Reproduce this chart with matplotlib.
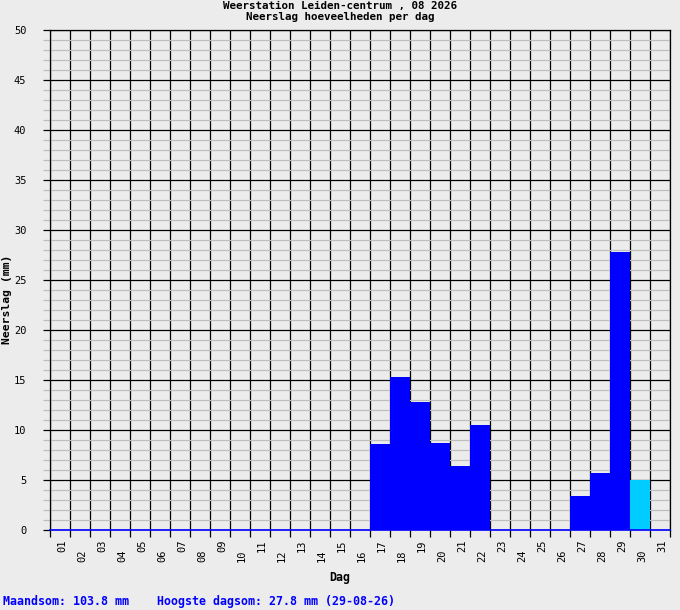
import matplotlib
matplotlib.use('Agg')
import matplotlib.pyplot as plt
import numpy as np

days = list(range(1, 32))
rain = [0, 0, 0, 0, 0, 0, 0, 0, 0, 0, 0, 0, 0, 0, 0, 0,
        8.6, 15.3, 12.8, 8.7, 6.4, 10.5, 0, 0, 0, 0, 3.4, 5.7, 27.8, 5.0, 0]
colors = ['#0000ff'] * 29 + ['#00ccff', '#0000ff']
day_labels = ['%02d' % d for d in days]

title_1 = 'Weerstation Leiden-centrum , 08 2026'
title_2 = 'Neerslag hoeveelheden per dag'
footer = 'Maandsom: 103.8 mm    Hoogste dagsom: 27.8 mm (29-08-26)'

bg = '#ececec'
mono = 'DejaVu Sans Mono'

fig = plt.figure(figsize=(6.8, 6.1), dpi=100, facecolor=bg)
ax = fig.add_axes([50 / 680, 80 / 610, 620 / 680, 500 / 610], facecolor=bg)

ax.bar(days, rain, width=1.0, color=colors, zorder=3, linewidth=0)

ax.set_xlim(0.5, 31.5)
ax.set_ylim(0, 50)

# grid
ax.set_xticks(np.arange(0.5, 32, 1))
ax.set_xticklabels([])
ax.set_yticks(np.arange(0, 51, 5))
ax.set_yticks(np.arange(0, 51, 1), minor=True)
ax.xaxis.grid(True, which='major', color='black', lw=0.9)
ax.yaxis.grid(True, which='major', color='black', lw=0.9)
ax.yaxis.grid(True, which='minor', color='#bebebe', lw=0.9)
ax.set_axisbelow(True)

ax.tick_params(axis='x', which='major', length=5, width=0.9, color='black', direction='out')
ax.tick_params(axis='y', which='major', length=5, width=0.9, color='black', pad=12,
               labelsize=7.5)
ax.tick_params(axis='y', which='minor', length=5, width=0.9, color='#bebebe')
for lab in ax.get_yticklabels():
    lab.set_family(mono)

for s in ['top', 'left', 'right']:
    ax.spines[s].set_color('black')
    ax.spines[s].set_linewidth(0.9)
ax.spines['bottom'].set_color('#0000ff')
ax.spines['bottom'].set_linewidth(1.2)
ax.spines['bottom'].set_zorder(5)

# day labels, staggered
for d, lab in zip(days, day_labels):
    y = -0.02 if d % 2 == 1 else -0.038
    ax.text(d + 0.1, y, lab, transform=ax.get_xaxis_transform(), rotation=90,
            ha='center', va='top', fontsize=7.5, family=mono)

fig.text(0.5, 1 - 6 / 610, title_1, ha='center', va='center', fontsize=7.8,
         family=mono, weight='bold')
fig.text(0.5, 1 - 17 / 610, title_2, ha='center', va='center', fontsize=7.8,
         family=mono, weight='bold')
fig.text(340 / 680, 1 - 577 / 610, 'Dag', ha='center', va='center', fontsize=8.4,
         family=mono, weight='bold')
fig.text(7 / 680, 1 - 299 / 610, 'Neerslag (mm)', ha='center', va='center',
         rotation=90, fontsize=8.2, family=mono, weight='bold')
fig.text(3 / 680, 1 - 602 / 610, footer, ha='left', va='center', fontsize=8.4,
         family=mono, weight='bold', color='#0000ff')

fig.savefig('out.png', dpi=100, facecolor=bg)
